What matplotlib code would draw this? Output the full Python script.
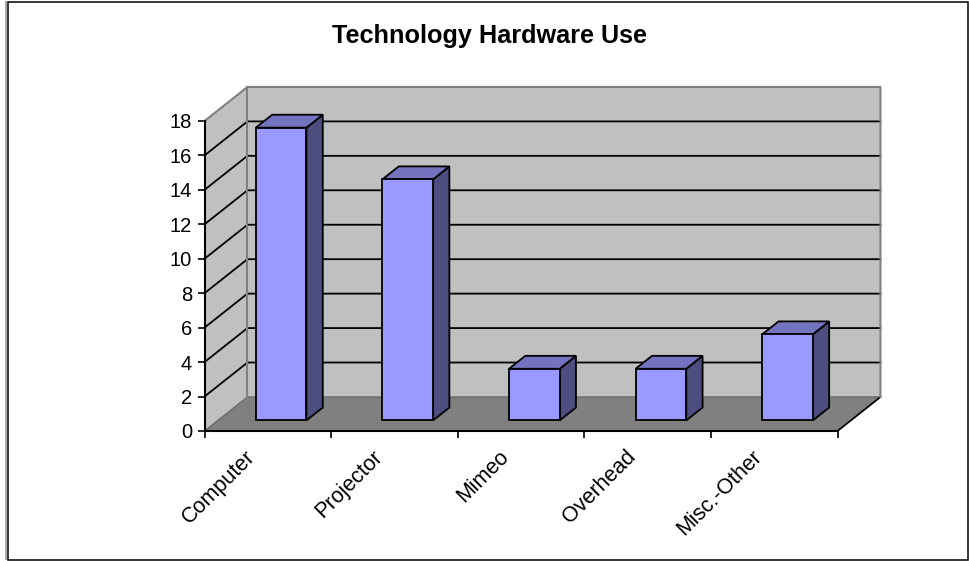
import matplotlib
matplotlib.use('Agg')
import matplotlib.pyplot as plt
from matplotlib.patches import Polygon, Rectangle

plt.rcParams['font.family'] = ['Liberation Sans', 'DejaVu Sans']

categories = ['Computer', 'Projector', 'Mimeo', 'Overhead', 'Misc.-Other']
values = [17, 14, 3, 3, 5]
y_ticks = [0, 2, 4, 6, 8, 10, 12, 14, 16, 18]
title = 'Technology Hardware Use'

W, H = 969, 561
# depth of the 3d box, in data units
depth_x = 43 / 126.7
depth_y = 34 / 17.2

fig = plt.figure(figsize=(W / 100, H / 100), dpi=100)
# outer chart border, grey shadow on the left edge
fig.add_artist(Rectangle((6 / W, 1 / H), 0, (H - 2) / H, fill=False, ec='#999999', lw=1.2,
                         transform=fig.transFigure))
fig.add_artist(Rectangle((7.5 / W, 1 / H), (W - 8.5) / W, (H - 2.5) / H, fill=False,
                         ec='black', lw=1.1, transform=fig.transFigure))
ax = fig.add_axes([204.5 / W, 1 - 431 / H, 633 / W, 310 / H])
ax.set_xlim(0, len(categories))
ax.set_ylim(0, 18)
ax.patch.set_visible(False)


def pt(x, v, d):
    return (x + d * depth_x, v + d * depth_y)


def face(corners, color, ec, lw, z):
    ax.add_patch(Polygon([pt(*c) for c in corners], closed=True, fc=color, ec=ec, lw=lw,
                         zorder=z, clip_on=False, joinstyle='miter'))


n = len(categories)
# walls and floor
face([(0, 0, 1), (n, 0, 1), (n, 18, 1), (0, 18, 1)], '#C0C0C0', 'none', 0, 1)
face([(0, 0, 0), (0, 0, 1), (0, 18, 1), (0, 18, 0)], '#C0C0C0', 'none', 0, 1)
face([(0, 0, 0), (n, 0, 0), (n, 0, 1), (0, 0, 1)], '#808080', '#6A6A6A', 1, 1.5)

# gridlines on both walls, the top one is just the grey wall edge
for v in y_ticks[1:-1]:
    ax.plot(*zip(pt(0, v, 0), pt(0, v, 1), pt(n, v, 1)), color='black', lw=1.3, zorder=2,
            clip_on=False, solid_joinstyle='miter')
# wall edges go over the gridlines
ax.plot(*zip(pt(0, 18, 0), pt(0, 18, 1), pt(n, 18, 1), pt(n, 0, 1)), color='#808080', lw=1.5,
        zorder=2.5, clip_on=False)
ax.plot(*zip(pt(0, 18, 1), pt(0, 0, 1)), color='#808080', lw=1.5, zorder=2.5, clip_on=False)
# floor outline on the open side
ax.plot(*zip(pt(n, 0, 0), pt(n, 0, 1)), color='black', lw=1.2, zorder=2, clip_on=False)

# bars
d0, d1 = 0.31, 0.69
half = 0.2
for i, v in enumerate(values):
    x0, x1 = i + 0.5 - half, i + 0.5 + half
    face([(x1, 0, d0), (x1, 0, d1), (x1, v, d1), (x1, v, d0)], '#4D4D80', 'black', 1.3, 3)
    face([(x0, v, d0), (x1, v, d0), (x1, v, d1), (x0, v, d1)], '#7373BF', 'black', 1.3, 3)
    face([(x0, 0, d0), (x1, 0, d0), (x1, v, d0), (x0, v, d0)], '#9999FF', 'black', 1.3, 4)

for s in ['top', 'right']:
    ax.spines[s].set_visible(False)
for s in ['left', 'bottom']:
    ax.spines[s].set_linewidth(1.5)
    ax.spines[s].set_zorder(5)
ax.set_yticks(y_ticks)
ax.set_xticks(range(n + 1))
ax.set_xticklabels([])
ax.tick_params(axis='both', length=5, width=1.2, labelsize=14.5, pad=4)

for i, c in enumerate(categories):
    ax.annotate(c, (i + 0.5, 0), xytext=(-11, -16.5), textcoords='offset points', rotation=45,
                rotation_mode='anchor', ha='right', va='center', fontsize=15.5,
                annotation_clip=False)

fig.text(490 / W, 1 - 36 / H, title, ha='center', va='center', fontsize=18.2, fontweight='bold')
fig.savefig('out.png', dpi=100)
